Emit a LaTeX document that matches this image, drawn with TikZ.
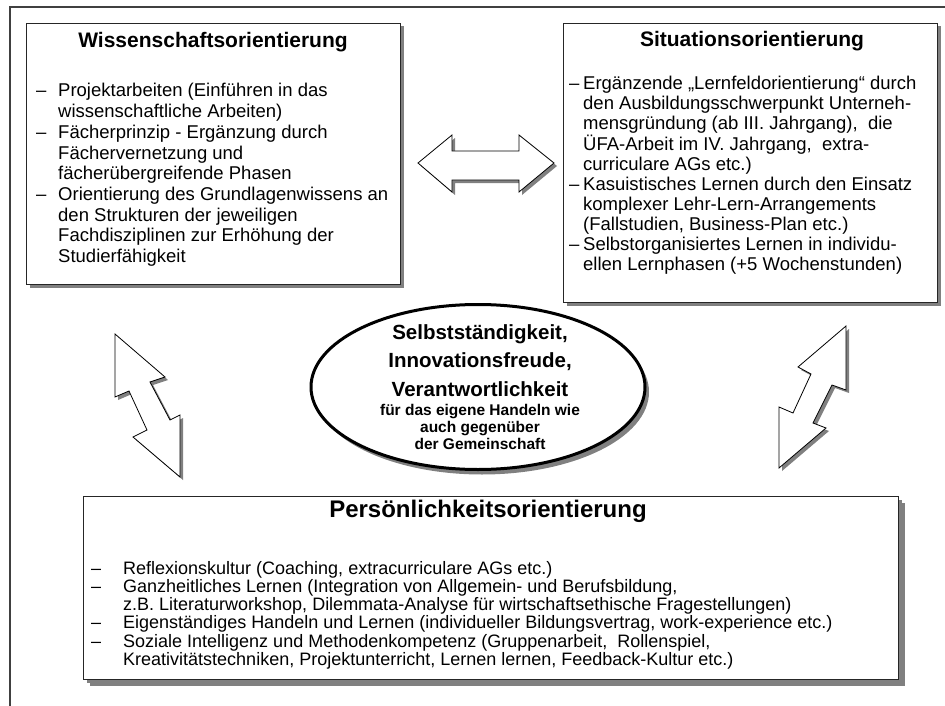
\documentclass[tikz,border=0pt]{standalone}
\usepackage{fontspec}
\setmainfont{Liberation Sans}
\usetikzlibrary{shapes.geometric,shadows}
\begin{document}
\begin{tikzpicture}[x=1pt,y=-1pt,
  frameline/.style={draw=black!75, line width=1.5pt},
  panel/.style={rectangle, draw=black!85, line width=1pt, fill=white,
    inner sep=0pt, anchor=north west,
    drop shadow={shadow xshift=3pt, shadow yshift=-3pt, fill=black!50, opacity=1}},
  widepanel/.style={panel,
    drop shadow={shadow xshift=6pt, shadow yshift=-6pt, fill=black!50, opacity=1}},
  blockarrow/.style={draw=black, line width=0.8pt, fill=white, line join=miter,
    drop shadow={shadow xshift=3pt, shadow yshift=-3pt, fill=black!50, opacity=1}},
  title/.style={font=\fontsize{21}{25}\selectfont\bfseries, anchor=base, inner sep=0pt},
  bigtitle/.style={font=\fontsize{24}{28}\selectfont\bfseries, anchor=base, inner sep=0pt},
  body/.style={font=\fontsize{18.5}{20}\selectfont, anchor=base west, inner sep=0pt},
  smallbody/.style={font=\fontsize{18}{20}\selectfont, anchor=base west, inner sep=0pt},
  corebig/.style={font=\fontsize{20.5}{24}\selectfont\bfseries, anchor=base, inner sep=0pt},
  coresmall/.style={font=\fontsize{15.5}{18}\selectfont\bfseries, anchor=base, inner sep=0pt},
]
\useasboundingbox (0,0) rectangle (945,706);

% outer frame (left and top edges)
\draw[frameline] (10,706) -- (10,7) -- (945,7);

% three panels
\node[panel, minimum width=374pt, minimum height=261pt] (wbox) at (26,23) {};
\node[panel, minimum width=374pt, minimum height=279pt] (sbox) at (563,23) {};
\node[widepanel, minimum width=815pt, minimum height=183pt] (pbox) at (83,496) {};

% central ellipse
\node[ellipse, draw=black, line width=3pt, fill=white, inner sep=0pt,
  minimum width=334pt, minimum height=165pt,
  drop shadow={shadow xshift=4pt, shadow yshift=-5pt, fill=black!50, opacity=1}]
  (core) at (478,387) {};

% block arrows between the panels
\draw[blockarrow] (418,163) -- (452,135) -- (452,151) -- (519,151) -- (519,135)
  -- (554,163) -- (519,192) -- (519,180) -- (452,180) -- (452,192) -- cycle;
\draw[blockarrow] (115,334) -- (165,377) -- (150,382) -- (170,420) -- (180,415)
  -- (180,477) -- (133,437) -- (147,430) -- (129,391) -- (115,397) -- cycle;
\draw[blockarrow] (846,326) -- (846,390) -- (832,385) -- (813,423) -- (826,428)
  -- (779,468) -- (779,407) -- (793,413) -- (811,374) -- (798,367) -- cycle;

% Wissenschaftsorientierung
\node[title] (wtitle) at (213,48) {Wissenschaftsorientierung};
\foreach \t [count=\i] in {
  {Projektarbeiten (Einführen in das},
  {wissenschaftliche Arbeiten)},
  {Fächerprinzip - Ergänzung durch},
  {Fächervernetzung und},
  {fächerübergreifende Phasen},
  {Orientierung des Grundlagenwissens an},
  {den Strukturen der jeweiligen},
  {Fachdisziplinen zur Erhöhung der},
  {Studierfähigkeit}}
  \node[body] (wl\i) at (58,{97+20.7*(\i-1)}) {\t};
\foreach \i in {1,3,6}
  \node[body] (wd\i) at (36,{97+20.7*(\i-1)}) {–};

% Situationsorientierung
\node[title] (stitle) at (752,47) {Situationsorientierung};
\foreach \t [count=\i] in {
  {Ergänzende „Lernfeldorientierung“ durch},
  {den Ausbildungsschwerpunkt Unterneh-},
  {mensgründung (ab III. Jahrgang),~ die},
  {ÜFA-Arbeit im IV. Jahrgang,~ extra-},
  {curriculare AGs etc.)},
  {Kasuistisches Lernen durch den Einsatz},
  {komplexer Lehr-Lern-Arrangements},
  {(Fallstudien, Business-Plan etc.)},
  {Selbstorganisiertes Lernen in individu-},
  {ellen Lernphasen (+5 Wochenstunden)}}
  \node[body] (sl\i) at (583,{90+20*(\i-1)}) {\t};
\foreach \i in {1,6,9}
  \node[body] (sd\i) at (569,{90+20*(\i-1)}) {–};

% Persönlichkeitsorientierung
\node[bigtitle] (ptitle) at (488,517) {Persönlichkeitsorientierung};
\foreach \t [count=\i] in {
  {Reflexionskultur (Coaching, extracurriculare AGs etc.)},
  {Ganzheitliches Lernen (Integration von Allgemein- und Berufsbildung,},
  {z.B. Literaturworkshop, Dilemmata-Analyse für wirtschaftsethische Fragestellungen)},
  {Eigenständiges Handeln und Lernen (individueller Bildungsvertrag, work-experience etc.)},
  {Soziale Intelligenz und Methodenkompetenz (Gruppenarbeit,~ Rollenspiel,},
  {Kreativitätstechniken, Projektunterricht, Lernen lernen, Feedback-Kultur etc.)}}
  \node[smallbody] (pl\i) at (123,{574+18.3*(\i-1)}) {\t};
\foreach \i in {1,2,4,5}
  \node[smallbody] (pd\i) at (91,{574+18.3*(\i-1)}) {–};

% text inside the ellipse
\node[corebig] (c1) at (480,339) {Selbstständigkeit,};
\node[corebig] (c2) at (480,367.5) {Innovationsfreude,};
\node[corebig] (c3) at (480,396) {Verantwortlichkeit};
\node[coresmall] (c4) at (480,415) {für das eigene Handeln wie};
\node[coresmall] (c5) at (480,432) {auch gegenüber};
\node[coresmall] (c6) at (480,449) {der Gemeinschaft};
\end{tikzpicture}
\end{document}
